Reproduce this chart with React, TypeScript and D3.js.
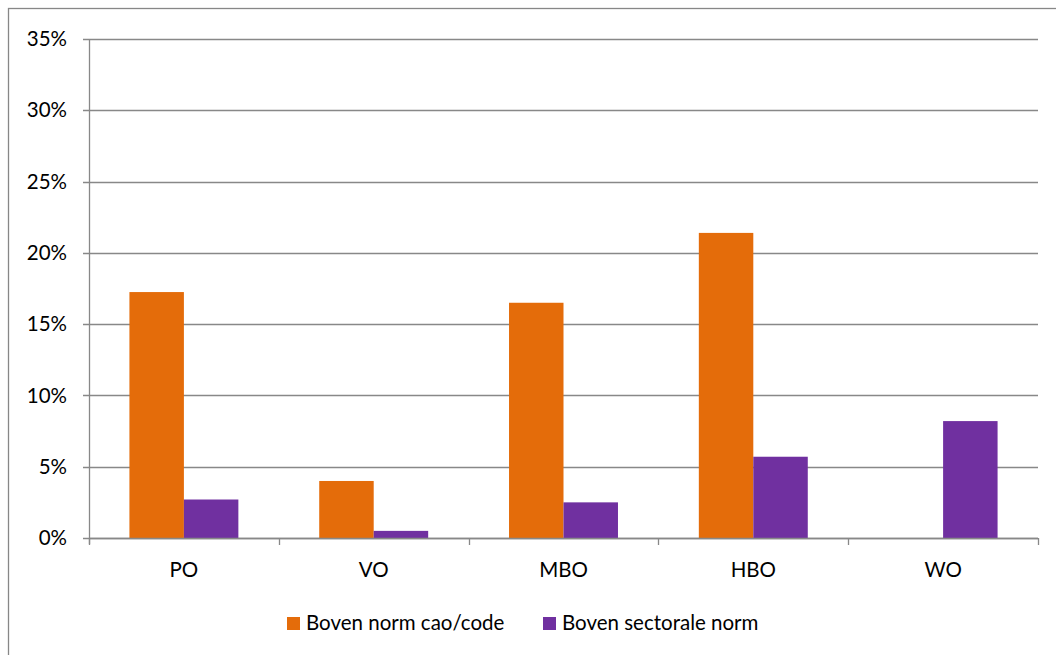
import React, { useEffect, useRef } from 'react';
import * as d3 from 'd3';

const categories = ['PO', 'VO', 'MBO', 'HBO', 'WO'];
const seriesNames = ['Boven norm cao/code', 'Boven sectorale norm'];
const cao = [17.25, 4.0, 16.5, 21.4, 0];
const sectoraal = [2.7, 0.5, 2.5, 5.7, 8.2];
const yTicks = [0, 5, 10, 15, 20, 25, 30, 35];
const colors = ['#E46C0A', '#7030A0'];

const App: React.FC = () => {
  const svgRef = useRef<SVGSVGElement | null>(null);

  useEffect(() => {
    if (!svgRef.current) return;
    const width = 1056;
    const height = 655;
    const plot = { left: 89, right: 1038, top: 39, bottom: 538 };
    const font = 'Lato, "Open Sans", sans-serif';
    const fontSize = 20.5;

    const svg = d3.select(svgRef.current).attr('width', width).attr('height', height);
    svg.selectAll('*').remove();

    // outer chart frame (runs off the page on right/bottom)
    svg
      .append('rect')
      .attr('x', 8.5)
      .attr('y', 8.5)
      .attr('width', width + 20)
      .attr('height', height + 20)
      .attr('fill', 'white')
      .attr('stroke', '#878787')
      .attr('stroke-width', 1.3);

    const x = d3.scaleBand().domain(categories).range([plot.left, plot.right]);
    const y = d3.scaleLinear().domain([0, 35]).range([plot.bottom, plot.top]);
    const barW = x.bandwidth() * 0.287;
    const offset = (x.bandwidth() - barW * 2) / 2;

    // gridlines
    svg
      .selectAll('.grid')
      .data(yTicks)
      .enter()
      .append('line')
      .attr('x1', plot.left - 6)
      .attr('x2', plot.right)
      .attr('y1', (d) => Math.round(y(d)) + 0.5)
      .attr('y2', (d) => Math.round(y(d)) + 0.5)
      .attr('stroke', '#888888')
      .attr('stroke-width', 1.3);

    svg
      .selectAll('.ylab')
      .data(yTicks)
      .enter()
      .append('text')
      .attr('x', 67)
      .attr('y', (d) => y(d))
      .attr('dy', '0.35em')
      .attr('text-anchor', 'end')
      .attr('font-family', font)
      .attr('font-size', fontSize)
      .attr('fill', '#000')
      .text((d) => `${d}%`);

    const series = [cao, sectoraal];
    series.forEach((vals, si) => {
      svg
        .selectAll(`.bar${si}`)
        .data(categories)
        .enter()
        .append('rect')
        .attr('x', (d) => (x(d) as number) + offset + si * barW)
        .attr('y', (d, i) => y(vals[i]))
        .attr('width', barW)
        .attr('height', (d, i) => y(0) - y(vals[i]))
        .attr('fill', colors[si]);
    });

    // axes lines
    svg
      .append('line')
      .attr('x1', plot.left + 0.5)
      .attr('x2', plot.left + 0.5)
      .attr('y1', plot.top)
      .attr('y2', plot.bottom + 6)
      .attr('stroke', '#888888')
      .attr('stroke-width', 1.3);
    svg
      .append('line')
      .attr('x1', plot.left)
      .attr('x2', plot.right)
      .attr('y1', Math.round(y(0)) + 0.5)
      .attr('y2', Math.round(y(0)) + 0.5)
      .attr('stroke', '#888888')
      .attr('stroke-width', 1.3);

    const xTicks = categories.map((c) => x(c) as number).concat([plot.right]);
    svg
      .selectAll('.xtick')
      .data(xTicks)
      .enter()
      .append('line')
      .attr('x1', (d) => Math.round(d) + 0.5)
      .attr('x2', (d) => Math.round(d) + 0.5)
      .attr('y1', plot.bottom)
      .attr('y2', plot.bottom + 7)
      .attr('stroke', '#888888')
      .attr('stroke-width', 1.3);

    svg
      .selectAll('.xlab')
      .data(categories)
      .enter()
      .append('text')
      .attr('x', (d) => (x(d) as number) + x.bandwidth() / 2)
      .attr('y', 577)
      .attr('text-anchor', 'middle')
      .attr('font-family', font)
      .attr('font-size', fontSize)
      .attr('fill', '#000')
      .text((d) => d);

    // legend
    const legendX = [287, 543];
    seriesNames.forEach((name, i) => {
      svg
        .append('rect')
        .attr('x', legendX[i])
        .attr('y', 617)
        .attr('width', 13)
        .attr('height', 13)
        .attr('fill', colors[i]);
      svg
        .append('text')
        .attr('x', legendX[i] + 19)
        .attr('y', 629.5)
        .attr('font-family', font)
        .attr('font-size', fontSize)
        .attr('fill', '#000')
        .text(name);
    });
  }, []);

  return (
    <div style={{ position: 'absolute', left: 0, top: 0 }}>
      <svg ref={svgRef}></svg>
    </div>
  );
};

export default App;
